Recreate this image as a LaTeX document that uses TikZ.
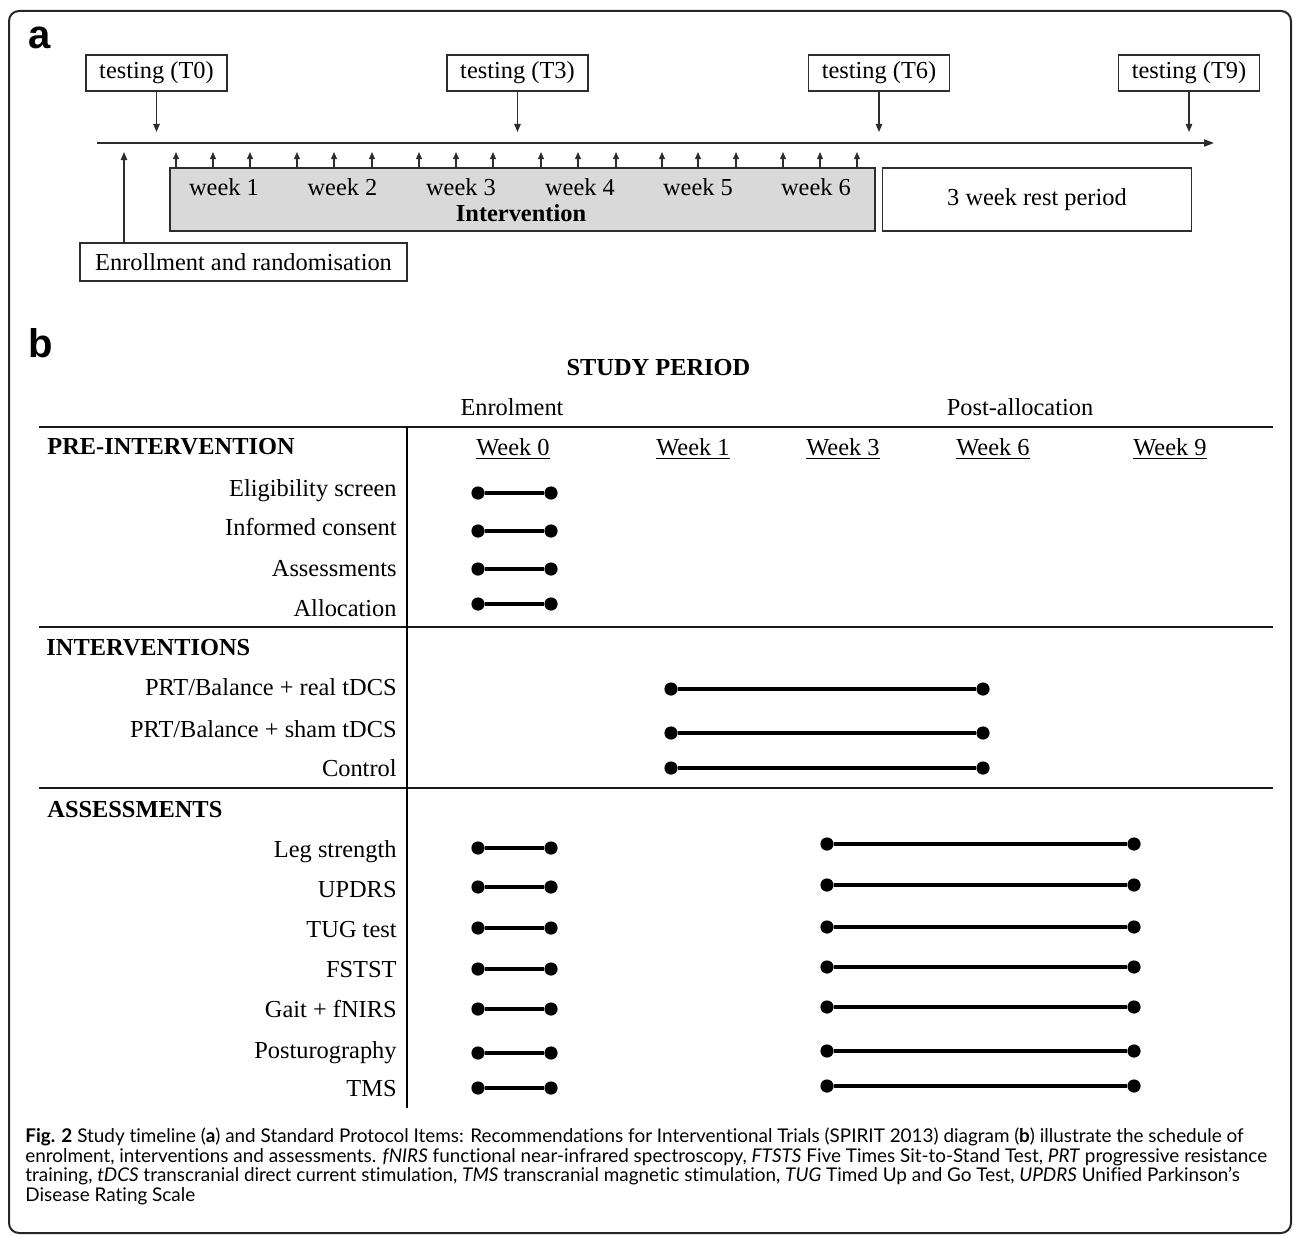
\documentclass[tikz,border=0pt]{standalone}
\usepackage{fontspec}
\setmainfont{Liberation Serif}
\newfontfamily\capfont[Ligatures=CommonOff]{Lato}
\newfontfamily\tagfont{Liberation Sans}
\usepackage{tikz}
\usetikzlibrary{arrows.meta,positioning}
\definecolor{colLine}{RGB}{45,45,45}
\definecolor{colIntv}{RGB}{217,217,217}
\newcommand{\txtsize}{\fontsize{12.2}{14}\selectfont}
\tikzset{
  tbox/.style   = {rectangle, draw=colLine, line width=0.7pt, inner sep=0pt,
                   minimum width=70.5pt, minimum height=18pt, font=\txtsize},
  ibox/.style   = {rectangle, draw=colLine, line width=0.8pt, fill=colIntv,
                   inner sep=0pt, minimum width=352.5pt, minimum height=31.5pt},
  rbox/.style   = {rectangle, draw=colLine, line width=0.7pt, inner sep=0pt,
                   minimum width=154.5pt, minimum height=31.5pt, font=\txtsize},
  ebox/.style   = {rectangle, draw=colLine, line width=0.7pt, inner sep=0pt,
                   minimum width=163.5pt, minimum height=19pt, font=\txtsize},
  lbl/.style    = {inner sep=0pt, font=\txtsize},
  hdr/.style    = {inner sep=0pt, font=\txtsize\bfseries},
  rowlbl/.style = {inner sep=0pt, font=\txtsize, anchor=base east},
  dot/.style    = {circle, fill=black, inner sep=0pt, minimum size=6.6pt},
  bar/.style    = {line width=1.6pt, draw=black},
  tline/.style  = {-{Triangle[length=5pt,width=3.6pt]}, line width=0.75pt, draw=colLine},
  tarr/.style   = {-{Triangle[length=4pt,width=3.2pt]}, line width=0.6pt, draw=colLine},
  karr/.style   = {-{Triangle[length=3.6pt,width=3pt]}, line width=0.6pt, draw=colLine},
  hrule/.style  = {line width=1.4pt, draw=black!90},
  vrule/.style  = {line width=1pt, draw=black},
  frame/.style  = {rounded corners=5pt, line width=1pt, draw=black!85},
  tag/.style    = {inner sep=0pt, anchor=base west,
                   font=\tagfont\bfseries\fontsize{20}{20}\selectfont},
  capt/.style   = {inner sep=0pt, anchor=base west,
                   font=\capfont\fontsize{9.45}{10}\selectfont},
}

\begin{document}
\begin{tikzpicture}[x=0.5pt, y=-0.5pt]
\useasboundingbox (0,0) rectangle (1295,1236);
\draw[frame] (9,11) rectangle (1291,1233);

%% Panel a -- timeline
\node[tag] (tag_a) at (28,49) {a};

\node[tbox] (test_t0) at (156.5,73) {testing (T0)};
\node[tbox] (test_t3) at (517.5,73) {testing (T3)};
\node[tbox] (test_t6) at (879,73)   {testing (T6)};
\node[tbox] (test_t9) at (1189,73)  {testing (T9)};

\coordinate (tl_start) at (97,143);
\coordinate (tl_end)   at (1214,143);
\coordinate (t0_tip)   at (156.5,132);
\coordinate (t3_tip)   at (517.5,132);
\coordinate (t6_tip)   at (879,132);
\coordinate (t9_tip)   at (1189,132);
\coordinate (enr_tip)  at (124,152);

\node[ibox] (intv_box) at (522.5,199.5) {};
\node[rbox, right=3pt of intv_box] (rest_box) {3 week rest period};
\node[ebox] (enrol_box) at (243.5,262) {Enrollment and randomisation};

\node[lbl, anchor=base] (wk_1) at (224,195)   {week 1};
\node[lbl, anchor=base] (wk_2) at (342.5,195) {week 2};
\node[lbl, anchor=base] (wk_3) at (461,195)   {week 3};
\node[lbl, anchor=base] (wk_4) at (580,195)   {week 4};
\node[lbl, anchor=base] (wk_5) at (698,195)   {week 5};
\node[lbl, anchor=base] (wk_6) at (816,195)   {week 6};
\node[hdr, anchor=base] (intv_lbl) at (521,221) {Intervention};

%% Arrows: panel a
\draw[tline] (tl_start) -- (tl_end);
\draw[tarr] (test_t0.south) -- (t0_tip);
\draw[tarr] (test_t3.south) -- (t3_tip);
\draw[tarr] (test_t6.south) -- (t6_tip);
\draw[tarr] (test_t9.south) -- (t9_tip);
\draw[tarr] (enrol_box.north -| enr_tip) -- (enr_tip);
\foreach \x [count=\i] in {176,213,250,297,334,372,419,456,493,
                           541,578,616,662,698,736,783,820,857} {
  \coordinate (tick_\i) at (\x,152);
  \draw[karr] (intv_box.north -| tick_\i) -- (tick_\i);
}

%% Panel b -- SPIRIT schedule
\node[tag] (tag_b) at (28,357) {b};
\node[hdr, anchor=base] (study_per) at (658.5,375) {STUDY PERIOD};
\node[lbl, anchor=base] (enrolment) at (512,415)   {Enrolment};
\node[lbl, anchor=base] (post_all)  at (1020,415)  {Post-allocation};

\draw[hrule] (39,427) -- (1273,427);
\draw[hrule] (39,627) -- (1273,627);
\draw[hrule] (39,788) -- (1273,788);
\draw[vrule] (407,427) -- (407,1108);

\node[lbl, anchor=base] (wk_h0) at (513,455)  {\underline{Week 0}};
\node[lbl, anchor=base] (wk_h1) at (693,455)  {\underline{Week 1}};
\node[lbl, anchor=base] (wk_h3) at (843,455)  {\underline{Week 3}};
\node[lbl, anchor=base] (wk_h6) at (993,455)  {\underline{Week 6}};
\node[lbl, anchor=base] (wk_h9) at (1170,455) {\underline{Week 9}};

\node[hdr, anchor=base west] (sec_pre) at (47,454) {PRE-INTERVENTION};
\node[hdr, anchor=base west] (sec_int) at (46,655) {INTERVENTIONS};
\node[hdr, anchor=base west] (sec_ass) at (47,817) {ASSESSMENTS};

\node[rowlbl] (r_elig)  at (397,496)  {Eligibility screen};
\node[rowlbl] (r_cons)  at (397,535)  {Informed consent};
\node[rowlbl] (r_asse)  at (397,576)  {Assessments};
\node[rowlbl] (r_allo)  at (397,616)  {Allocation};
\node[rowlbl] (r_real)  at (397,695)  {PRT/Balance + real tDCS};
\node[rowlbl] (r_sham)  at (397,737)  {PRT/Balance + sham tDCS};
\node[rowlbl] (r_ctrl)  at (397,776)  {Control};
\node[rowlbl] (r_leg)   at (397,857)  {Leg strength};
\node[rowlbl] (r_updrs) at (397,897)  {UPDRS};
\node[rowlbl] (r_tug)   at (397,937)  {TUG test};
\node[rowlbl] (r_fstst) at (397,977)  {FSTST};
\node[rowlbl] (r_gait)  at (397,1017) {Gait + fNIRS};
\node[rowlbl] (r_post)  at (397,1058) {Posturography};
\node[rowlbl] (r_tms)   at (397,1096) {TMS};

%% Dumbbells
\foreach \y [count=\i] in {493,531,569,604} {
  \node[dot] (pre_a\i) at (478,\y) {};
  \node[dot] (pre_b\i) at (551,\y) {};
  \draw[bar] (pre_a\i) -- (pre_b\i);
}
\foreach \y [count=\i] in {689,733,768} {
  \node[dot] (int_a\i) at (671,\y) {};
  \node[dot] (int_b\i) at (983,\y) {};
  \draw[bar] (int_a\i) -- (int_b\i);
}
\foreach \yl/\yr [count=\i] in {848/844,887/885,928/927,969/967,
                                1009/1007,1053/1051,1088/1086} {
  \node[dot] (ass_a\i) at (478,\yl) {};
  \node[dot] (ass_b\i) at (551,\yl) {};
  \draw[bar] (ass_a\i) -- (ass_b\i);
  \node[dot] (ass_c\i) at (827,\yr) {};
  \node[dot] (ass_d\i) at (1134,\yr) {};
  \draw[bar] (ass_c\i) -- (ass_d\i);
}

%% Caption
\node[capt] (cap_1) at (25,1142) {\textbf{Fig. 2} Study timeline (\textbf{a}) and Standard Protocol Items: Recommendations for Interventional Trials (SPIRIT 2013) diagram (\textbf{b}) illustrate the schedule of};
\node[capt] (cap_2) at (25,1162) {enrolment, interventions and assessments. \textit{fNIRS} functional near-infrared spectroscopy, \textit{FTSTS} Five Times Sit-to-Stand Test, \textit{PRT} progressive resistance};
\node[capt] (cap_3) at (25,1181) {training, \textit{tDCS} transcranial direct current stimulation, \textit{TMS} transcranial magnetic stimulation, \textit{TUG} Timed Up and Go Test, \textit{UPDRS} Unified Parkinson’s};
\node[capt] (cap_4) at (25,1201) {Disease Rating Scale};

\end{tikzpicture}
\end{document}
